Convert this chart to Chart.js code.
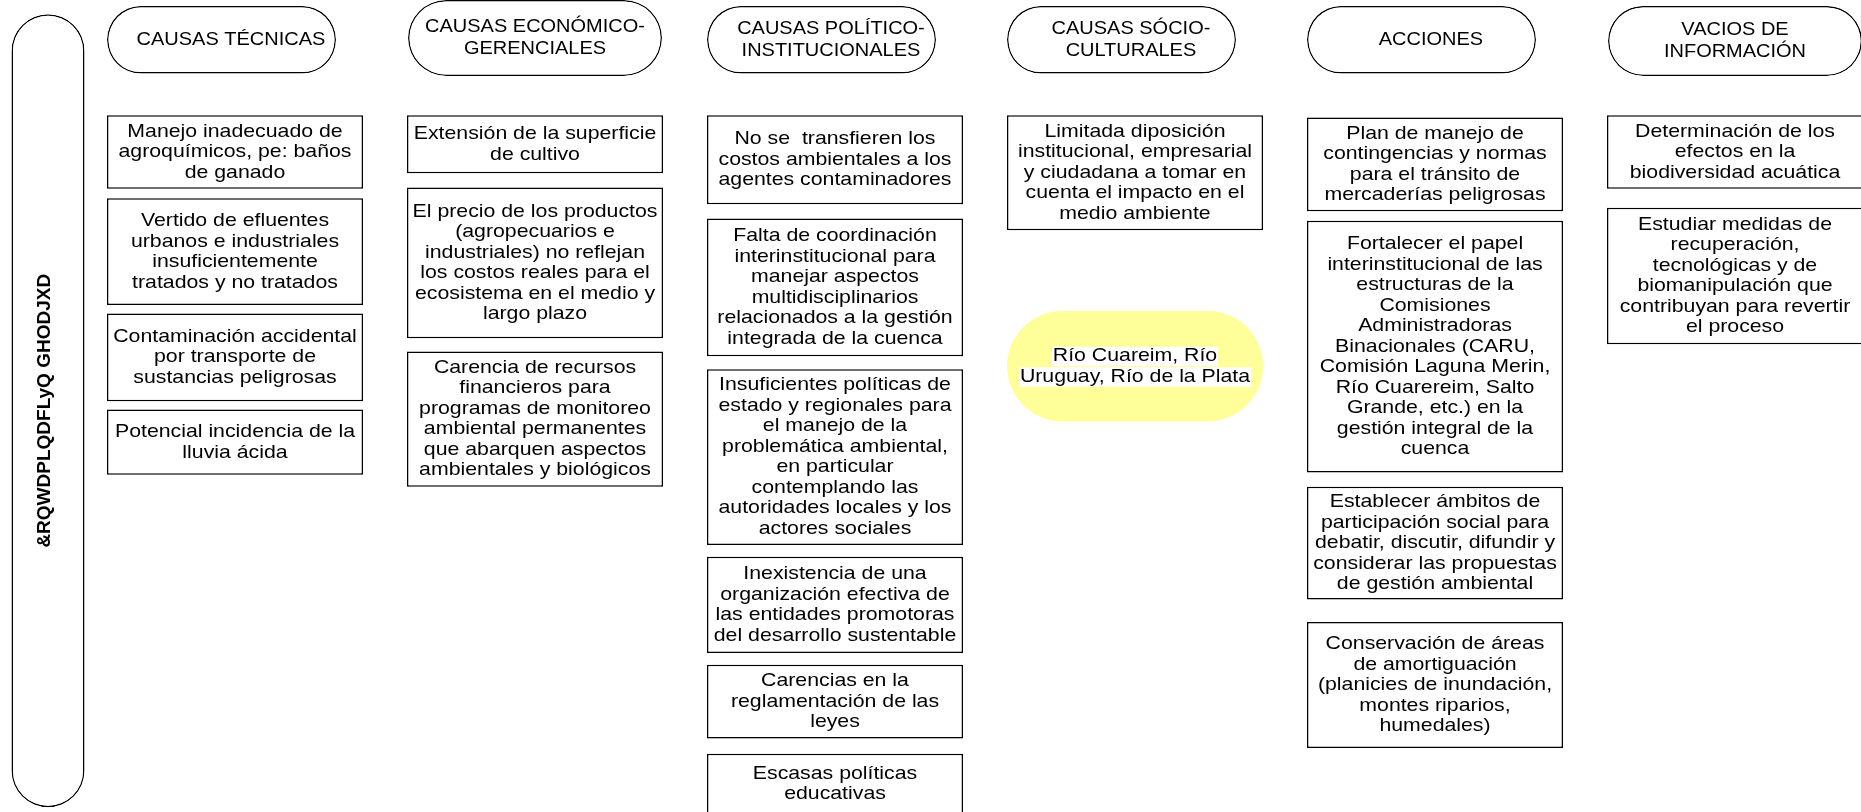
<!DOCTYPE html>
<html>
<head>
<meta charset="utf-8">
<script src="https://cdn.jsdelivr.net/npm/chart.js@4.4.0/dist/chart.umd.min.js"></script>
<style>
  html, body { margin: 0; padding: 0; background: #fff; }
  #wrap { width: 1861px; height: 812px; }
</style>
</head>
<body>
<div id="wrap"><canvas id="diagram" width="1861" height="812"></canvas></div>
<script>
// column headings, one per x index (0..5)
const headers = [
  'CAUSAS TÉCNICAS',
  'CAUSAS ECONÓMICO-\nGERENCIALES',
  'CAUSAS POLÍTICO-\nINSTITUCIONALES',
  'CAUSAS SÓCIO-\nCULTURALES',
  'ACCIONES',
  'VACIOS DE\nINFORMACIÓN'
];
// vertical spans [top, bottom] on the 0..684 depth scale
const headerSpans = [[5, 62], [0, 64], [5, 62], [5, 62], [5, 62], [5, 64]];
const wideHeaders = [1, 5];

const sideLabel = '&RQWDPLQDFLyQ GHODJXD';
const sideSpan = [12, 680];

const tecnicas = [
  'Manejo inadecuado de\nagroquímicos, pe: baños\nde ganado',
  'Vertido de efluentes\nurbanos e industriales\ninsuficientemente\ntratados y no tratados',
  'Contaminación accidental\npor transporte de\nsustancias peligrosas',
  'Potencial incidencia de la\nlluvia ácida'
];
const tecnicasSpans = [[97, 159], [167, 257], [264, 338], [345, 400]];

const economicos = [
  'Extensión de la superficie\nde cultivo',
  'El precio de los productos\n(agropecuarios e\nindustriales) no reflejan\nlos costos reales para el\necosistema en el medio y\nlargo plazo',
  'Carencia de recursos\nfinancieros para\nprogramas de monitoreo\nambiental permanentes\nque abarquen aspectos\nambientales y biológicos'
];
const economicosSpans = [[97, 146], [158, 285], [296, 410]];

const politicos = [
  'No se  transfieren los\ncostos ambientales a los\nagentes contaminadores',
  'Falta de coordinación\ninterinstitucional para\nmanejar aspectos\nmultidisciplinarios\nrelacionados a la gestión\nintegrada de la cuenca',
  'Insuficientes políticas de\nestado y regionales para\nel manejo de la\nproblemática ambiental,\nen particular\ncontemplando las\nautoridades locales y los\nactores sociales',
  'Inexistencia de una\norganización efectiva de\nlas entidades promotoras\ndel desarrollo sustentable',
  'Carencias en la\nreglamentación de las\nleyes',
  'Escasas políticas\neducativas'
];
const politicosSpans = [[97, 172], [184, 300], [311, 459], [469, 550], [560, 622], [635, 686]];

const socioculturales = [
  'Limitada diposición\ninstitucional, empresarial\ny ciudadana a tomar en\ncuenta el impacto en el\nmedio ambiente'
];
const socioculturalesSpans = [[97, 194]];
const rioText = 'Río Cuareim, Río\nUruguay, Río de la Plata';
const rioSpan = [262, 355];

const acciones = [
  'Plan de manejo de\ncontingencias y normas\npara el tránsito de\nmercaderías peligrosas',
  'Fortalecer el papel\ninterinstitucional de las\nestructuras de la\nComisiones\nAdministradoras\nBinacionales (CARU,\nComisión Laguna Merin,\nRío Cuarereim, Salto\nGrande, etc.) en la\ngestión integral de la\ncuenca',
  'Establecer ámbitos de\nparticipación social para\ndebatir, discutir, difundir y\nconsiderar las propuestas\nde gestión ambiental',
  'Conservación de áreas\nde amortiguación\n(planicies de inundación,\nmontes riparios,\nhumedales)'
];
const accionesSpans = [[99, 178], [186, 398], [410, 505], [524, 630]];

const vacios = [
  'Determinación de los\nefectos en la\nbiodiversidad acuática',
  'Estudiar medidas de\nrecuperación,\ntecnológicas y de\nbiomanipulación que\ncontribuyan para revertir\nel proceso'
];
const vaciosSpans = [[97, 159], [175, 290]];

// ---- layout / style ----
const FONT = '"Liberation Sans", Arial, sans-serif';
const colPitch = 300;      // px per column unit
const firstCenter = 235;   // px of column 0 centre
const boxW = 256, pillNarrow = 229, pillWide = 254;
const xMin = -firstCenter / colPitch;
const xMax = xMin + 1861 / colPitch;
const sideX = xMin + 48 / colPitch;

function boxSet(col, texts, spans) {
  return {
    type: 'bar',
    data: spans.map(s => ({ x: col, y: s })),
    texts: texts,
    backgroundColor: '#ffffff',
    borderColor: '#000000',
    borderWidth: 1.5,
    borderSkipped: false,
    barThickness: boxW,
    grouped: false,
    inflateAmount: 0
  };
}

const narrowIdx = headers.map((h, i) => i).filter(i => !wideHeaders.includes(i));
const nudgePx = (boxW - pillNarrow) / 2;
const nudge = nudgePx / colPitch;

const datasets = [
  {
    data: narrowIdx.map(i => ({ x: i - nudge, y: headerSpans[i] })),
    texts: narrowIdx.map(i => headers[i]),
    header: true,
    textShift: nudgePx * 0.7,   // heading text sits near the column centre
    backgroundColor: '#ffffff', borderColor: '#000000', borderWidth: 1.5,
    borderSkipped: false, borderRadius: 999, barThickness: pillNarrow, grouped: false, inflateAmount: 0
  },
  {
    data: wideHeaders.map(i => ({ x: i, y: headerSpans[i] })),
    texts: wideHeaders.map(i => headers[i]),
    header: true,
    backgroundColor: '#ffffff', borderColor: '#000000', borderWidth: 1.5,
    borderSkipped: false, borderRadius: 999, barThickness: pillWide, grouped: false, inflateAmount: 0
  },
  {
    data: [{ x: sideX, y: sideSpan }],
    texts: [sideLabel],
    vertical: true,
    backgroundColor: '#ffffff', borderColor: '#000000', borderWidth: 1.5,
    borderSkipped: false, borderRadius: 999, barThickness: 73, grouped: false, inflateAmount: 0
  },
  boxSet(0, tecnicas, tecnicasSpans),
  boxSet(1, economicos, economicosSpans),
  boxSet(2, politicos, politicosSpans),
  boxSet(3, socioculturales, socioculturalesSpans),
  {
    data: [{ x: 3, y: rioSpan }],
    texts: [rioText],
    highlight: true,
    backgroundColor: '#ffff99', borderWidth: 0,
    borderSkipped: false, borderRadius: 999, barThickness: boxW, grouped: false, inflateAmount: 0
  },
  boxSet(4, acciones, accionesSpans),
  boxSet(5, vacios, vaciosSpans)
];

// writes each box's text inside the bar the library placed
const boxText = {
  id: 'boxText',
  afterDatasetsDraw(chart) {
    const ctx = chart.ctx;
    const area = chart.chartArea;
    chart.data.datasets.forEach((ds, di) => {
      if (!ds.texts) return;
      chart.getDatasetMeta(di).data.forEach((bar, i) => {
        const p = bar.getProps(['x', 'y', 'base', 'width'], true);
        const top = Math.min(p.y, p.base), bottom = Math.max(p.y, p.base);
        const cy = (top + bottom) / 2;
        const cx = p.x + (ds.textShift || 0);
        const lines = ds.texts[i].split('\n');
        ctx.save();
        ctx.beginPath();
        ctx.rect(area.left, area.top, area.right - area.left, area.bottom - area.top);
        ctx.clip();
        ctx.fillStyle = '#000';
        ctx.textAlign = 'center';
        ctx.textBaseline = 'middle';
        if (ds.vertical) {
          ctx.translate(cx - 3, cy);
          ctx.rotate(-Math.PI / 2);
          ctx.font = 'bold 19px ' + FONT;
          ctx.fillText(lines[0], 0, 0);
          ctx.restore();
          return;
        }
        const lh = ds.header ? 22.5 : 20.5;
        const sx = ds.header ? 1.08 : 1.15;
        ctx.font = '18.5px ' + FONT;
        const y0 = cy - (lines.length - 1) * lh / 2;
        lines.forEach((ln, k) => {
          const y = y0 + k * lh;
          if (ds.highlight) {
            const w = ctx.measureText(ln).width * sx;
            ctx.fillStyle = '#ffffff';
            ctx.fillRect(cx - w / 2 - 1, y - lh / 2 + 1, w + 2, lh - 1);
            ctx.fillStyle = '#000';
          }
          ctx.save();
          ctx.translate(cx, y);
          ctx.scale(sx, 1);
          ctx.fillText(ln, 0, 0);
          ctx.restore();
        });
        ctx.restore();
      });
    });
  }
};

new Chart(document.getElementById('diagram'), {
  type: 'bar',
  data: { datasets: datasets },
  options: {
    responsive: false,
    animation: false,
    events: [],
    layout: { padding: 0 },
    scales: {
      x: { type: 'linear', min: xMin, max: xMax, offset: false, display: false },
      y: { type: 'linear', min: 0, max: 684, reverse: true, display: false }
    },
    plugins: {
      legend: { display: false },
      tooltip: { enabled: false }
    }
  },
  plugins: [boxText]
});
</script>
</body>
</html>
